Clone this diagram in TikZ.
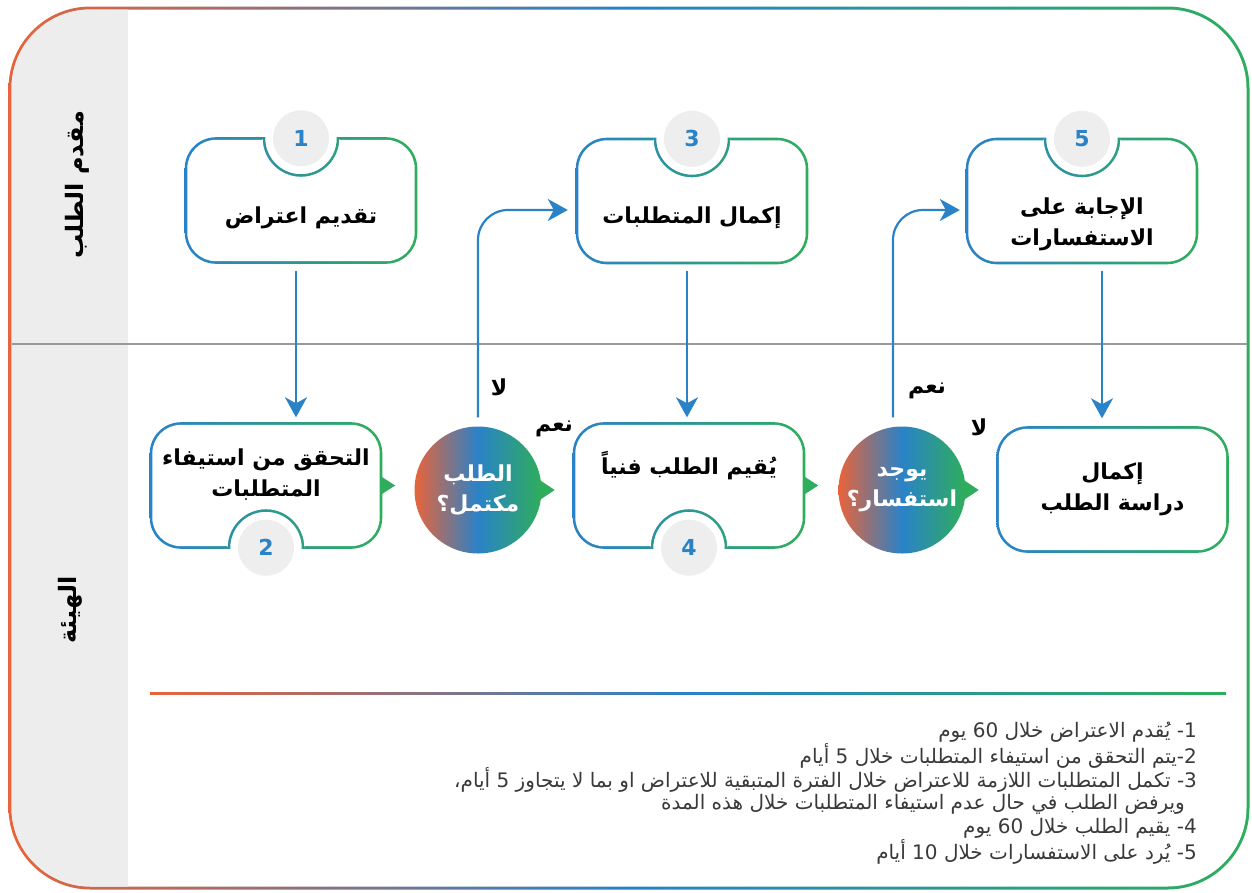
\documentclass[tikz,border=0pt]{standalone}
\usepackage{fontspec}
\usetikzlibrary{arrows.meta}
\setmainfont{DejaVu Sans}
\newfontfamily\arabicfont[Script=Arabic]{DejaVu Sans}
\TeXXeTstate=1

\definecolor{corange}{HTML}{E8643A}
\definecolor{cblue}{HTML}{2A82C7}
\definecolor{cgreen}{HTML}{2EAE5C}
\definecolor{lanegray}{HTML}{EDEDED}
\definecolor{badgegray}{HTML}{EEEEEE}
\definecolor{notegray}{HTML}{3A3A3A}

\newcommand{\rl}[1]{\beginR #1\endR}
% card outline, notch on top / bottom: centre x, centre y, inset
\newcommand{\topnotch}[3]{({#1+37+#3},{#2-62+#3}) -- ({#1+85},{#2-62+#3}) arc[start angle=-90,end angle=0,radius={30-#3}] -- ({#1+115-#3},{#2+32}) arc[start angle=0,end angle=90,radius={30-#3}] -- ({#1-85},{#2+62-#3}) arc[start angle=90,end angle=180,radius={30-#3}] -- ({#1-115+#3},{#2-32}) arc[start angle=180,end angle=270,radius={30-#3}] -- ({#1-37-#3},{#2-62+#3}) -- ({#1-37-#3},{#2-62}) arc[start angle=180,end angle=0,radius={37+#3}] -- cycle}
\newcommand{\botnotch}[3]{({#1-85},{#2-62+#3}) -- ({#1+85},{#2-62+#3}) arc[start angle=-90,end angle=0,radius={30-#3}] -- ({#1+115-#3},{#2+32}) arc[start angle=0,end angle=90,radius={30-#3}] -- ({#1+37+#3},{#2+62-#3}) -- ({#1+37+#3},{#2+62}) arc[start angle=0,end angle=-180,radius={37+#3}] -- ({#1-37-#3},{#2+62-#3}) -- ({#1-85},{#2+62-#3}) arc[start angle=90,end angle=180,radius={30-#3}] -- ({#1-115+#3},{#2-32}) arc[start angle=180,end angle=270,radius={30-#3}] -- cycle}

\begin{document}
\begin{tikzpicture}[x=1pt, y=-1pt,
  tricolor/.style={left color=corange, right color=cgreen, middle color=cblue},
  cardline/.style={left color=cblue, right color=cgreen},
  cardbox/.style={minimum width=230pt, minimum height=124pt, inner sep=0pt},
  cardtext/.style={font=\arabicfont\bfseries\fontsize{22}{31}\selectfont, align=center},
  badge/.style={circle, fill=badgegray, minimum size=56pt, inner sep=0pt, text=cblue, font=\bfseries\fontsize{22}{22}\selectfont},
  decision/.style={circle, minimum size=127pt, inner sep=0pt, tricolor, text=white, align=center, font=\arabicfont\bfseries\fontsize{22}{30}\selectfont},
  flow/.style={draw=cblue, line width=2.2pt, -{Stealth[length=20pt, width=22pt, inset=6pt]}},
  pointer/.style={fill=cgreen},
  answer/.style={font=\arabicfont\bfseries\fontsize{22}{22}\selectfont},
  lanelabel/.style={rotate=90, font=\arabicfont\bfseries\fontsize{24}{24}\selectfont},
  noteline/.style={anchor=east, inner sep=0pt, text=notegray, font=\arabicfont\fontsize{20}{20}\selectfont}]

  \useasboundingbox (0,0) rectangle (1252,892);

  % frame and lanes
  \shade[tricolor, rounded corners=82pt] (8.5,6.5) rectangle (1249.5,889.5);
  \fill[white, rounded corners=79pt] (11.5,9.5) rectangle (1246.5,886.5);
  \begin{scope}
    \clip[rounded corners=79pt] (11.5,9.5) rectangle (1246.5,886.5);
    \fill[lanegray] (0,0) rectangle (128,892);
  \end{scope}
  \draw[gray!80, line width=1.8pt] (11.5,344) -- (1246.5,344);

  \node[lanelabel] (lane1) at (77,185) {\rl{مقدم الطلب}};
  \node[lanelabel] (lane2) at (70,610) {\rl{الهيئة}};

  % cards
  \shade[cardline] \topnotch{301}{200.5}{(-1.3)};
  \fill[white] \topnotch{301}{200.5}{1.3};
  \shade[cardline] \topnotch{692}{201}{(-1.3)};
  \fill[white] \topnotch{692}{201}{1.3};
  \shade[cardline] \topnotch{1082}{201}{(-1.3)};
  \fill[white] \topnotch{1082}{201}{1.3};
  \shade[cardline] \botnotch{266}{485.5}{(-1.3)};
  \fill[white] \botnotch{266}{485.5}{1.3};
  \shade[cardline] \botnotch{689}{485.5}{(-1.3)};
  \fill[white] \botnotch{689}{485.5}{1.3};
  \shade[cardline, rounded corners=31.3pt] (996.2,426.2) rectangle (1228.8,552.8);
  \fill[white, rounded corners=28.7pt] (998.8,428.8) rectangle (1226.2,550.2);

  \node[cardbox] (s1) at (301,200.5) {};
  \node[cardbox] (s3) at (692,201) {};
  \node[cardbox] (s5) at (1082,201) {};
  \node[cardbox] (s2) at (266,485.5) {};
  \node[cardbox] (s4) at (689,485.5) {};
  \node[cardbox] (s6) at (1112.5,489.5) {};

  \node[cardtext] (t1) at ([yshift=-17pt]s1.center) {\rl{تقديم اعتراض}};
  \node[cardtext] (t3) at ([yshift=-17pt]s3.center) {\rl{إكمال المتطلبات}};
  \node[cardtext] (t5) at ([yshift=-23pt]s5.center) {\rl{الإجابة على}\\\rl{الاستفسارات}};
  \node[cardtext] (t2) at ([yshift=11pt]s2.center) {\rl{التحقق من استيفاء}\\\rl{المتطلبات}};
  \node[cardtext] (t4) at ([yshift=20pt]s4.center) {\rl{يُقيم الطلب فنياً}};
  \node[cardtext] (t6) at (s6.center) {\rl{إكمال}\\\rl{دراسة الطلب}};

  \node[badge] (b1) at (s1.north) {1};
  \node[badge] (b3) at (s3.north) {3};
  \node[badge] (b5) at (s5.north) {5};
  \node[badge] (b2) at (s2.south) {2};
  \node[badge] (b4) at (s4.south) {4};

  % decisions
  \node[decision] (q1) at (478,490) {\rl{الطلب}\\\rl{مكتمل؟}};
  \node[decision] (q2) at (902,490) {\rl{يوجد}\\\rl{استفسار؟}};

  \fill[pointer] ([yshift=9pt]s2.east) -- ([xshift=14pt]s2.east) -- ([yshift=-9pt]s2.east) -- cycle;
  \fill[pointer] ([xshift=-2pt,yshift=10pt]q1.east) -- ([xshift=13pt]q1.east) -- ([xshift=-2pt,yshift=-10pt]q1.east) -- cycle;
  \fill[pointer] ([yshift=9pt]s4.east) -- ([xshift=14pt]s4.east) -- ([yshift=-9pt]s4.east) -- cycle;
  \fill[pointer] ([xshift=-2pt,yshift=10pt]q2.east) -- ([xshift=13pt]q2.east) -- ([xshift=-2pt,yshift=-10pt]q2.east) -- cycle;

  % flow
  \draw[flow] ([xshift=-5pt,yshift=-8pt]s1.south) -- ([xshift=-5pt,yshift=6pt]s1.south |- s2.north);
  \draw[flow] ([xshift=-5pt,yshift=-8pt]s3.south) -- ([xshift=-5pt,yshift=6pt]s3.south |- s4.north);
  \draw[flow] ([xshift=20pt,yshift=-8pt]s5.south) -- ([xshift=20pt,yshift=9pt]s5.south |- s6.north);
  \draw[flow, rounded corners=30pt] ([yshift=9pt]q1.north) |- ([xshift=-9pt,yshift=-9pt]s3.west);
  \draw[flow, rounded corners=30pt] ([xshift=-9pt,yshift=9pt]q2.north) |- ([xshift=-7pt,yshift=-9pt]s5.west);

  \node[answer] (no1) at ([xshift=21pt,yshift=39pt]q1.north) {\rl{لا}};
  \node[answer] (yes1) at ([xshift=31pt,yshift=16pt]q1.north east) {\rl{نعم}};
  \node[answer] (yes2) at ([xshift=25pt,yshift=35pt]q2.north) {\rl{نعم}};
  \node[answer] (no2) at ([xshift=32pt,yshift=18pt]q2.north east) {\rl{لا}};

  % notes
  \shade[tricolor] (150,692) rectangle (1226,694.2);
  \node[noteline] (n1) at (1197,732) {\rl{1- يُقدم الاعتراض خلال 60 يوم}};
  \node[noteline] (n2) at (1197,756) {\rl{2-يتم التحقق من استيفاء المتطلبات خلال 5 أيام}};
  \node[noteline] (n3) at (1197,780) {\rl{3- تكمل المتطلبات اللازمة للاعتراض خلال الفترة المتبقية للاعتراض او بما لا يتجاوز 5 أيام،}};
  \node[noteline] (n3b) at (1185,804) {\rl{ويرفض الطلب في حال عدم استيفاء المتطلبات خلال هذه المدة}};
  \node[noteline] (n4) at (1197,828) {\rl{4- يقيم الطلب خلال 60 يوم}};
  \node[noteline] (n5) at (1197,852) {\rl{5- يُرد على الاستفسارات خلال 10 أيام}};

\end{tikzpicture}
\end{document}
